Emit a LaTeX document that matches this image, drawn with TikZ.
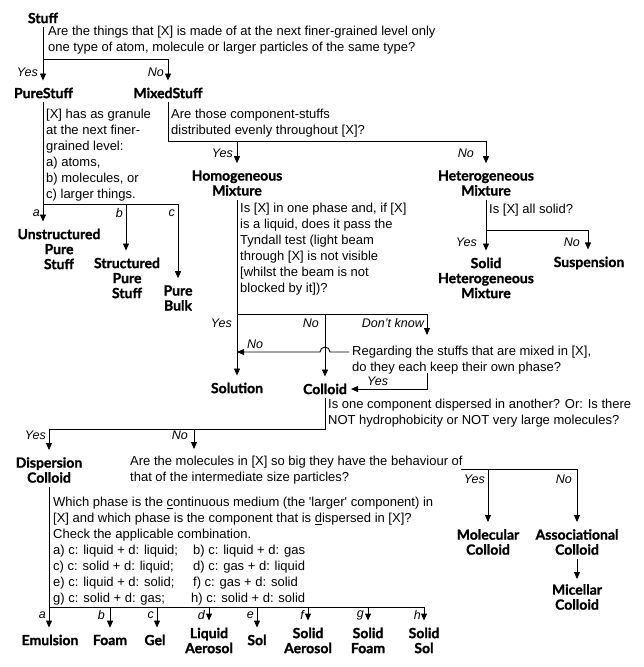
\documentclass[tikz,border=0pt]{standalone}
\usepackage{fontspec}
\setmainfont{Liberation Sans}
\newfontfamily\lblfont{Lato}[BoldFeatures={FakeBold=1.2}]
\usetikzlibrary{arrows.meta}
\begin{document}
\begin{tikzpicture}[x=1pt,y=-1pt,
  ln/.style={line width=0.9pt},
  arr/.style={line width=0.9pt,-{Triangle[length=7pt,width=6pt]},shorten >=7pt},
  arr0/.style={line width=0.9pt,-{Triangle[length=7pt,width=6pt]}},
  qtext/.style={font=\fontsize{13}{16}\selectfont,align=left,inner sep=0pt,anchor=west},
  lbl/.style={font=\lblfont\bfseries\fontsize{14}{15}\selectfont,align=center,inner sep=0pt},
  br/.style={font=\itshape\fontsize{12.5}{14}\selectfont,inner sep=0pt,anchor=east},
  brw/.style={font=\itshape\fontsize{12.5}{14}\selectfont,inner sep=0pt,anchor=west},
]
\useasboundingbox (0,0) rectangle (643,667);

% ---- Stuff
\node[lbl] (stuff) at (43,18) {Stuff};
\node[qtext] (q1) at (48,40) {Are the things that [X] is made of at the next finer-grained level only\\one type of atom, molecule or larger particles of the same type?};
\coordinate (j1) at (43,59);
\coordinate (j1r) at (168,59);
\node[lbl] (pure) at (43.5,93) {PureStuff};
\node[lbl] (mixed) at (168,93) {MixedStuff};
\draw[ln,shorten <=4pt] (stuff.south) -- (j1) -- (j1r);
\draw[arr] (j1) -- (j1 |- pure.north);
\draw[arr] (j1r) -- (mixed.north);
\node[br] at (38,72) {Yes};
\node[br] at (164,72) {No};

% ---- PureStuff
\node[qtext] (qp) at (46,155) {[X] has as granule\\at the next finer-\\grained level:\\a) atoms,\\b) molecules, or\\c) larger things.};
\coordinate (j2) at (43,204);
\coordinate (j2b) at (126,204);
\coordinate (j2c) at (178,204);
\node[lbl] (unstr) at (59,249) {Unstructured\\Pure\\Stuff};
\node[lbl] (str) at (127,278) {Structured\\Pure\\Stuff};
\node[lbl] (bulk) at (178,298) {Pure\\Bulk};
\draw[ln,shorten <=4pt] (pure.south -| j2) -- (j2) -- (j2c);
\draw[arr] (j2) -- (j2 |- unstr.north);
\draw[arr] (j2b) -- (j2b |- str.north);
\draw[arr] (j2c) -- (j2c |- bulk.north);
\node[br] at (40,213) {a};
\node[br] at (123,213) {b};
\node[br] at (175,213) {c};

% ---- MixedStuff
\node[qtext] (qm) at (171,123) {Are those component-stuffs\\distributed evenly throughout [X]?};
\coordinate (j3) at (168,141);
\coordinate (j3a) at (237,141);
\coordinate (j3b) at (486,141);
\node[lbl] (homo) at (237,183) {Homogeneous\\Mixture};
\node[lbl] (hetero) at (486,183) {Heterogeneous\\Mixture};
\draw[ln,shorten <=4pt] (mixed.south) -- (j3) -- (j3b);
\draw[arr] (j3a) -- (homo.north);
\draw[arr] (j3b) -- (hetero.north);
\node[br] at (233,153) {Yes};
\node[br] at (474,153) {No};

% ---- Heterogeneous
\node[qtext] (qhet) at (489,210) {Is [X] all solid?};
\coordinate (j7) at (486,230);
\coordinate (j7r) at (588,230);
\node[lbl] (solhet) at (486,278) {Solid\\Heterogeneous\\Mixture};
\node[lbl] (susp) at (589,263) {Suspension};
\draw[ln,shorten <=4pt] (hetero.south) -- (j7) -- (j7r);
\draw[arr] (j7) -- (solhet.north);
\draw[arr] (j7r) -- (j7r |- susp.north);
\node[br] at (477,242) {Yes};
\node[br] at (580,242) {No};

% ---- Homogeneous
\node[qtext] (qh) at (240,249) {Is [X] in one phase and, if [X]\\is a liquid, does it pass the\\Tyndall test (light beam\\through [X] is not visible\\{}[whilst the beam is not\\blocked by it])?};
\coordinate (j4) at (237,314);
\coordinate (j4m) at (325,314);
\coordinate (j4r) at (427,314);
\coordinate (dk) at (427,335);
\node[lbl] (sol) at (237,388) {Solution};
\node[lbl] (coll) at (325,389) {Colloid};
\node[qtext] (qr) at (352,360) {Regarding the stuffs that are mixed in [X],\\do they each keep their own phase?};
\draw[ln,shorten <=4pt] (homo.south) -- (j4) -- (j4r);
\draw[arr] (j4) -- (sol.north);
\draw[arr] (j4m) -- (coll.north);
\draw[arr0] (j4r) -- (dk);
\node[br] at (232,323) {Yes};
\node[br] at (319,323) {No};
\node[br] at (424,323) {Don't know};
\coordinate (rn) at (349,352);
\draw[arr0] (rn) -- (330,352) arc[start angle=0,end angle=-180,radius=5] -- (sol.north |- rn);
\node[brw] at (247,344) {No};
\coordinate (ry) at (427,373);
\draw[arr0,shorten >=4pt] (ry) |- (coll.east);
\node[brw] at (367,381) {Yes};

% ---- Colloid
\node[qtext] (qc) at (328,413) {Is one component dispersed in another? Or: Is there\\NOT hydrophobicity or NOT very large molecules?};
\coordinate (j5) at (325,429);
\coordinate (j5l) at (49,429);
\coordinate (j5n) at (194,429);
\coordinate (nm) at (194,449);
\draw[ln,shorten <=4pt] (coll.south) -- (j5) -- (j5l);
\node[lbl] (disp) at (49,470) {Dispersion\\Colloid};
\draw[arr] (j5l) -- (disp.north);
\draw[arr0] (j5n) -- (nm);
\node[br] at (46,435) {Yes};
\node[br] at (188,435) {No};

% ---- molecules question
\node[qtext] (qmol) at (130,470) {Are the molecules in [X] so big they have the behaviour of\\that of the intermediate size particles?};
\coordinate (mo) at (461,469);
\coordinate (jm) at (488,469);
\coordinate (jmr) at (577,469);
\node[lbl] (molc) at (488,542) {Molecular\\Colloid};
\node[lbl] (assoc) at (577,542) {Associational\\Colloid};
\node[lbl] (mic) at (577,597) {Micellar\\Colloid};
\draw[ln] (mo) -- (jmr);
\draw[arr] (jm) -- (molc.north);
\draw[arr] (jmr) -- (assoc.north);
\draw[arr0,shorten <=4pt,shorten >=5pt] (assoc.south) -- (mic.north);
\node[br] at (485,479) {Yes};
\node[br] at (572,479) {No};

% ---- Dispersion colloid question
\node[qtext] (qd) at (53,551) {Which phase is the \underline{c}ontinuous medium (the \textquotesingle larger\textquotesingle{} component) in\\{}[X] and which phase is the component that is \underline{d}ispersed in [X]?\\Check the applicable combination.\\\makebox[140pt][l]{a) c: liquid + d: liquid;}b) c: liquid + d: gas\\\makebox[140pt][l]{c) c: solid + d: liquid;}d) c: gas + d: liquid\\\makebox[140pt][l]{e) c: liquid + d: solid;}f) c: gas + d: solid\\\makebox[138pt][l]{g) c: solid + d: gas;}h) c: solid + d: solid};
\coordinate (j6) at (49,607);
\coordinate (j6b) at (110,607);
\coordinate (j6c) at (157,607);
\coordinate (j6d) at (209,607);
\coordinate (j6e) at (257,607);
\coordinate (j6f) at (308,607);
\coordinate (j6g) at (368,607);
\coordinate (j6h) at (424,607);
\draw[ln,shorten <=4pt] (disp.south) -- (j6) -- (j6h);
\node[lbl] (emul) at (50,640) {Emulsion};
\node[lbl] (foam) at (110,640) {Foam};
\node[lbl] (gel) at (155,640) {Gel};
\node[lbl] (laer) at (209,640.5) {Liquid\\Aerosol};
\node[lbl] (solo) at (257,640) {Sol};
\node[lbl] (saer) at (308,640.5) {Solid\\Aerosol};
\node[lbl] (sfoam) at (368,640.5) {Solid\\Foam};
\node[lbl] (ssol) at (424,640.5) {Solid\\Sol};
\draw[arr] (j6) -- (j6 |- emul.north);
\draw[arr] (j6b) -- (j6b |- foam.north);
\draw[arr] (j6c) -- (j6c |- gel.north);
\draw[arr] (j6d) -- (j6d |- laer.north);
\draw[arr] (j6e) -- (j6e |- solo.north);
\draw[arr] (j6f) -- (j6f |- saer.north);
\draw[arr] (j6g) -- (j6g |- sfoam.north);
\draw[arr] (j6h) -- (j6h |- ssol.north);
\node[br] at (46,615) {a};
\node[br] at (105,615) {b};
\node[br] at (154,615) {c};
\node[br] at (205,615) {d};
\node[br] at (254,615) {e};
\node[br] at (304,615) {f};
\node[br] at (364,615) {g};
\node[br] at (421,615) {h};
\end{tikzpicture}
\end{document}
